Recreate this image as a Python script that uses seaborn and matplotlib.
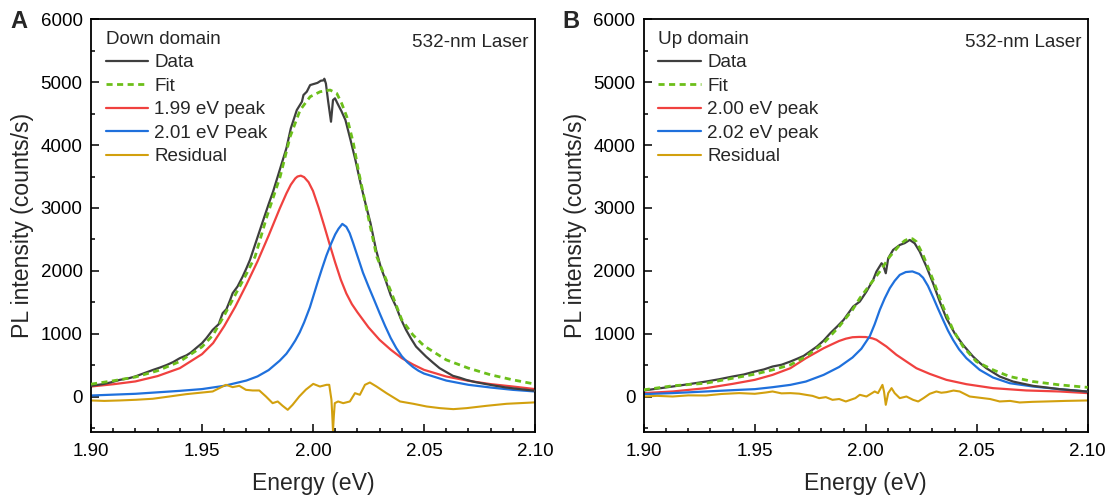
import numpy as np
import pandas as pd
import matplotlib
matplotlib.use("Agg")
import matplotlib.pyplot as plt
from matplotlib.ticker import MultipleLocator
import seaborn as sns

# ---------------- Panel A (Down domain) ----------------
a_data_x = [1.900, 1.905, 1.909, 1.913, 1.917, 1.920, 1.924, 1.928, 1.931, 1.934, 1.937, 1.940,
            1.943, 1.945, 1.948, 1.950, 1.952, 1.9548, 1.9575, 1.9593, 1.9610, 1.9625, 1.9638,
            1.966, 1.9683, 1.970, 1.9716, 1.9745, 1.9776, 1.980, 1.982, 1.985, 1.988, 1.990,
            1.9927, 1.995, 1.9957, 1.9972, 1.9987, 2.0002, 2.0020, 2.0035, 2.0047, 2.0051, 2.0058,
            2.0068, 2.0081, 2.0090, 2.0099, 2.0110, 2.0128, 2.0146, 2.0169, 2.0191, 2.0214, 2.0236,
            2.0259, 2.0284, 2.0305, 2.0329, 2.035, 2.0374, 2.0395, 2.0419, 2.044, 2.0464, 2.0485,
            2.0509, 2.054, 2.057, 2.060, 2.063, 2.066, 2.069, 2.073, 2.078, 2.082, 2.087, 2.093,
            2.099, 2.100]
a_data_y = [170, 195, 225, 265, 290, 320, 372, 424, 460, 500, 548, 610,
            655, 700, 790, 849, 930, 1060, 1150, 1326, 1390, 1520, 1644,
            1750, 1908, 2040, 2173, 2480, 2809, 3060, 3259, 3604, 3949, 4267,
            4558, 4690, 4797, 4850, 4955, 4971, 4990, 5024, 5030, 5056, 4980,
            4700, 4372, 4717, 4744, 4664, 4540, 4399, 4081, 3763, 3392, 3075,
            2757, 2332, 2060, 1828, 1610, 1431, 1240, 1060, 930, 795, 720,
            636, 540, 451, 390, 329, 300, 265, 230, 197, 172, 143, 118,
            95, 92]

a_fit_x = [1.90, 1.91, 1.92, 1.93, 1.94, 1.95, 1.955, 1.96, 1.965, 1.97, 1.9739, 1.9792, 1.9852,
           1.9897, 1.9942, 1.9987, 2.0032, 2.0077, 2.0107, 2.0129, 2.0152, 2.0182, 2.0204, 2.0242,
           2.0287, 2.035, 2.04, 2.045, 2.05, 2.06, 2.07, 2.08, 2.09, 2.10]
a_fit_y = [197, 250, 310, 410, 557, 790, 980, 1290, 1620, 1950, 2226, 2862, 3498,
           4134, 4558, 4770, 4849, 4876, 4823, 4664, 4452, 4028, 3604, 2968,
           2226, 1680, 1220, 980, 806, 583, 451, 345, 265, 197]

a_p1_x = [1.90, 1.91, 1.92, 1.93, 1.94, 1.95, 1.955, 1.96, 1.965, 1.97, 1.975, 1.98, 1.985, 1.988,
          1.99, 1.992, 1.993, 1.9945, 1.996, 1.998, 2.00, 2.0025, 2.005, 2.0075, 2.01, 2.0125,
          2.015, 2.0175, 2.02, 2.025, 2.03, 2.035, 2.04, 2.045, 2.05, 2.06, 2.07, 2.08, 2.09, 2.10]
a_p1_y = [159, 195, 240, 325, 451, 674, 850, 1120, 1430, 1780, 2150, 2560, 2990, 3230,
          3370, 3470, 3500, 3514, 3490, 3410, 3270, 3010, 2720, 2420, 2130, 1860,
          1640, 1470, 1340, 1100, 901, 745, 610, 510, 424, 318, 250, 197, 159, 118]

a_p2_x = [1.90, 1.92, 1.94, 1.95, 1.96, 1.97, 1.975, 1.98, 1.985, 1.988, 1.99, 1.992, 1.994,
          1.996, 1.9986, 2.000, 2.002, 2.004, 2.006, 2.008, 2.01, 2.0115, 2.0132, 2.015, 2.0165,
          2.018, 2.0195, 2.021, 2.0225, 2.025, 2.0275, 2.03, 2.0325, 2.035, 2.0375, 2.04,
          2.0425, 2.045, 2.0475, 2.05, 2.06, 2.07, 2.08, 2.09, 2.10]
a_p2_y = [16, 43, 90, 118, 170, 254, 320, 420, 570, 680, 780, 890, 1020,
          1180, 1420, 1580, 1810, 2030, 2240, 2420, 2580, 2670, 2746, 2700, 2600,
          2450, 2290, 2130, 1970, 1750, 1540, 1326, 1120, 930, 770, 640,
          545, 470, 410, 365, 254, 186, 143, 106, 80]

a_res_x = [1.8999, 1.906, 1.9128, 1.9203, 1.9278, 1.9353, 1.9428, 1.9503, 1.9548, 1.9578, 1.9608,
           1.9638, 1.9668, 1.9698, 1.9728, 1.9758, 1.9788, 1.9818, 1.9841, 1.9863, 1.9886, 1.9908,
           1.9938, 1.9968, 2.0001, 2.0031, 2.0061, 2.0073, 2.0083, 2.0086, 2.0090, 2.0094, 2.0098,
           2.0113, 2.0136, 2.0166, 2.0189, 2.0211, 2.0234, 2.0256, 2.0286, 2.0331, 2.0392, 2.0452,
           2.0512, 2.0572, 2.0632, 2.0692, 2.0782, 2.0872, 2.0992, 2.100]
a_res_y = [-63, -70, -63, -52, -36, 0, 37, 64, 80, 133, 186,
           149, 170, 106, 96, 96, 0, -106, -79, -148, -212, -132,
           0, 110, 201, 159, 186, 186, -52, -250, -545, -300, -106,
           -79, -106, -79, 53, 27, 186, 223, 159, 53, -79, -116,
           -159, -185, -201, -185, -148, -116, -95, -92]

# ---------------- Panel B (Up domain) ----------------
b_data_x = [1.900, 1.906, 1.913, 1.920, 1.928, 1.934, 1.940, 1.945, 1.950, 1.954, 1.958, 1.962,
            1.966, 1.969, 1.972, 1.975, 1.978, 1.981, 1.984, 1.987, 1.990, 1.9943, 1.9973, 2.0003,
            2.0033, 2.0048, 2.0071, 2.0078, 2.0090, 2.0101, 2.0123, 2.0153, 2.0175, 2.0198, 2.022,
            2.0243, 2.0273, 2.0303, 2.0333, 2.0363, 2.04, 2.0438, 2.0483, 2.0515, 2.0543, 2.0603,
            2.0663, 2.0753, 2.0873, 2.0993, 2.100]
b_data_y = [96, 125, 159, 195, 238, 275, 318, 350, 397, 430, 477, 505,
            556, 600, 646, 720, 795, 890, 1007, 1110, 1219, 1431, 1511, 1670,
            1855, 1988, 2120, 2090, 1961, 2200, 2332, 2411, 2440, 2491, 2438,
            2305, 2067, 1802, 1511, 1246, 1007, 821, 636, 530, 450, 318,
            238, 170, 117, 80, 78]

b_fit_x = [1.90, 1.913, 1.928, 1.94, 1.95, 1.958, 1.966, 1.973, 1.981, 1.988, 1.994, 1.9973, 2.0018,
           2.0063, 2.0108, 2.0153, 2.0175, 2.0198, 2.021, 2.0228, 2.0258, 2.0303, 2.0348, 2.0393,
           2.0438, 2.0498, 2.0573, 2.0648, 2.0753, 2.0873, 2.10]
b_fit_y = [106, 170, 212, 290, 355, 424, 503, 636, 848, 1113, 1378, 1564, 1776,
           1988, 2226, 2411, 2480, 2517, 2510, 2464, 2252, 1855, 1431, 1060,
           795, 556, 424, 318, 238, 185, 145]

b_p1_x = [1.90, 1.913, 1.928, 1.940, 1.950, 1.958, 1.966, 1.973, 1.981, 1.985, 1.988, 1.991, 1.994,
          1.997, 2.000, 2.003, 2.0048, 2.0093, 2.0138, 2.0183, 2.0228, 2.0288, 2.0363, 2.0453,
          2.0573, 2.0723, 2.0873, 2.10]
b_p1_y = [54, 80, 133, 201, 265, 344, 450, 609, 768, 835, 884, 920, 943,
          948, 946, 925, 902, 795, 663, 556, 450, 360, 265, 196,
          133, 96, 80, 54]

b_p2_x = [1.90, 1.913, 1.928, 1.943, 1.95, 1.958, 1.966, 1.973, 1.981, 1.988, 1.994, 1.998, 2.0018,
          2.004, 2.0063, 2.0085, 2.0108, 2.013, 2.0153, 2.018, 2.021, 2.024, 2.0258, 2.028, 2.0303,
          2.0325, 2.0348, 2.037, 2.0393, 2.042, 2.0453, 2.0513, 2.0573, 2.0648, 2.0753, 2.0873, 2.10]
b_p2_y = [38, 54, 80, 106, 117, 148, 185, 238, 344, 470, 620, 760, 960,
          1150, 1378, 1560, 1723, 1840, 1935, 1980, 1990, 1950, 1890, 1760, 1580,
          1400, 1219, 1050, 901, 750, 610, 424, 302, 212, 159, 117, 78]

b_res_x = [1.90, 1.906, 1.913, 1.920, 1.928, 1.935, 1.943, 1.95, 1.955, 1.958, 1.962, 1.966, 1.970,
           1.973, 1.976, 1.979, 1.982, 1.985, 1.988, 1.991, 1.9953, 1.9973, 2.0003, 2.004, 2.0055,
           2.0075, 2.0082, 2.009, 2.0101, 2.0116, 2.013, 2.0153, 2.0183, 2.0213, 2.0236, 2.026,
           2.0288, 2.0318, 2.034, 2.0363, 2.0395, 2.0423, 2.0468, 2.0528, 2.056, 2.0603, 2.065,
           2.0693, 2.075, 2.0813, 2.090, 2.10]
b_res_y = [0, 10, 0, 18, 16, 40, 54, 43, 64, 80, 50, 54, 45,
           27, 10, -26, -10, -53, -40, -79, -26, 27, 0, 80, 54,
           185, 80, -132, 54, 133, 54, -26, 0, -53, -79, -26,
           43, 80, 60, 69, 95, 80, 0, -26, -40, -79, -70,
           -95, -85, -79, -70, -63]

panel_letters = ["A", "B"]
panel_titles = ["Down domain", "Up domain"]
peak_labels = [["1.99 eV peak", "2.01 eV Peak"], ["2.00 eV peak", "2.02 eV peak"]]
laser_text = "532-nm Laser"
x_label = "Energy (eV)"
y_label = "PL intensity (counts/s)"

# ---------------- styling ----------------
sns.set_style("white")
plt.rcParams["font.family"] = ["Liberation Sans", "DejaVu Sans"]
plt.rcParams["axes.linewidth"] = 1.3

c_data = "#3f3f3f"
c_fit = "#6cbf1a"
c_p1 = "#f0413f"
c_p2 = "#1f70dc"
c_res = "#d2a00e"

fig = plt.figure(figsize=(11.1, 5.0), dpi=100)
axes = [fig.add_axes([0.082, 0.1366, 0.400, 0.8246]),
        fig.add_axes([0.580, 0.1366, 0.400, 0.8246])]

panels = [
    (a_data_x, a_data_y, a_fit_x, a_fit_y, a_p1_x, a_p1_y, a_p2_x, a_p2_y, a_res_x, a_res_y),
    (b_data_x, b_data_y, b_fit_x, b_fit_y, b_p1_x, b_p1_y, b_p2_x, b_p2_y, b_res_x, b_res_y),
]

for i, (ax, p) in enumerate(zip(axes, panels)):
    dx, dy, fx, fy, p1x, p1y, p2x, p2y, rx, ry = p
    sns.lineplot(x=p1x, y=p1y, ax=ax, color=c_p1, lw=1.6, label=peak_labels[i][0], zorder=2)
    sns.lineplot(x=p2x, y=p2y, ax=ax, color=c_p2, lw=1.6, label=peak_labels[i][1], zorder=2)
    sns.lineplot(x=rx, y=ry, ax=ax, color=c_res, lw=1.5, label="Residual", zorder=2)
    sns.lineplot(x=dx, y=dy, ax=ax, color=c_data, lw=1.6, label="Data", zorder=3)
    sns.lineplot(x=fx, y=fy, ax=ax, color=c_fit, lw=2.0, label="Fit", zorder=4)
    ax.lines[-1].set_dashes((2.2, 1.6))

    ax.set_xlim(1.90, 2.10)
    ax.set_ylim(-560, 6000)
    ax.xaxis.set_major_locator(MultipleLocator(0.05))
    ax.xaxis.set_minor_locator(MultipleLocator(0.01))
    ax.yaxis.set_major_locator(MultipleLocator(1000))
    ax.yaxis.set_minor_locator(MultipleLocator(500))
    ax.set_xticklabels([f"{v:.2f}" for v in ax.get_xticks()])
    ax.tick_params(which="both", direction="in", top=False, right=False,
                   bottom=True, left=True, width=1.1, labelsize=13.5, colors="black")
    ax.tick_params(which="major", length=5.5)
    ax.tick_params(axis="x", which="major", pad=8)
    ax.tick_params(axis="y", which="major", pad=6)
    ax.tick_params(which="minor", length=3)
    for s in ax.spines.values():
        s.set_color("black")
        s.set_linewidth(1.3)
    ax.set_xlabel(x_label, fontsize=16.6, labelpad=9)
    ax.set_ylabel(y_label, fontsize=16.6, labelpad=5)

    handles, labels = ax.get_legend_handles_labels()
    order = ["Data", "Fit", peak_labels[i][0], peak_labels[i][1], "Residual"]
    hmap = dict(zip(labels, handles))
    leg = ax.legend([hmap[k] for k in order], order, loc="upper left",
                    bbox_to_anchor=(0.005, 1.002), frameon=False, fontsize=13.6,
                    title=panel_titles[i], title_fontsize=13.6, alignment="left",
                    handlelength=2.27, handletextpad=0.32, labelspacing=0.33,
                    borderaxespad=0.25)
    ax.text(0.986, 0.945, laser_text, transform=ax.transAxes, ha="right", va="center",
            fontsize=13.6)
    fig.text(ax.get_position().x0 - 0.073, 0.958, panel_letters[i], fontsize=17,
             fontweight="bold", ha="left", va="center")

fig.savefig("out.png", dpi=100)
